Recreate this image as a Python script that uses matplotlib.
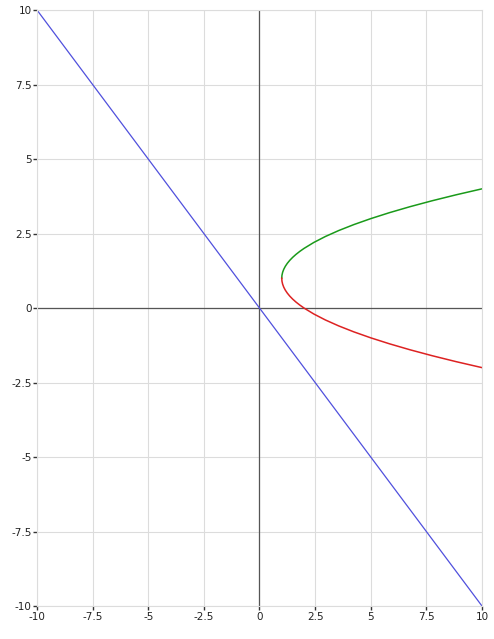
import numpy as np
import matplotlib
matplotlib.use("Agg")
import matplotlib.pyplot as plt

plt.rcParams['axes.unicode_minus'] = False
plt.rcParams['font.family'] = ['DejaVu Sans']

# straight line through origin
line_x = [-10, 10]
line_y = [10, -10]

# upper branch (green)
green_y = [1.0, 1.1, 1.2, 1.3, 1.4, 1.5, 1.6, 1.7, 1.8, 1.9, 2.0, 2.2, 2.4, 2.6, 2.8,
           3.0, 3.2, 3.4, 3.6, 3.8, 4.0]
green_x = [1.0, 1.01, 1.04, 1.09, 1.16, 1.25, 1.36, 1.49, 1.64, 1.81, 2.0, 2.44, 2.96, 3.56, 4.24,
           5.0, 5.84, 6.76, 7.76, 8.84, 10.0]

# lower branch (red)
red_y = [1.0, 0.9, 0.8, 0.7, 0.6, 0.5, 0.4, 0.3, 0.2, 0.1, 0.0, -0.2, -0.4, -0.6, -0.8,
         -1.0, -1.2, -1.4, -1.6, -1.8, -2.0]
red_x = [1.0, 1.01, 1.04, 1.09, 1.16, 1.25, 1.36, 1.49, 1.64, 1.81, 2.0, 2.44, 2.96, 3.56, 4.24,
         5.0, 5.84, 6.76, 7.76, 8.84, 10.0]

ticks = [-10, -7.5, -5, -2.5, 0, 2.5, 5, 7.5, 10]
tick_labels = ["-10", "-7.5", "-5", "-2.5", "0", "2.5", "5", "7.5", "10"]

fig = plt.figure(figsize=(4.94, 6.39), dpi=100)
ax = fig.add_axes([0.0749, 0.0516, 0.9008, 0.9327])

ax.set_xlim(-10, 10)
ax.set_ylim(-10, 10)
ax.set_xticks(ticks)
ax.set_yticks(ticks)
ax.set_xticklabels(tick_labels)
ax.set_yticklabels(tick_labels)
ax.grid(True, color="#dcdcdc", linewidth=0.8)
ax.set_axisbelow(True)
for s in ax.spines.values():
    s.set_color("#dcdcdc")
    s.set_linewidth(0.8)
ax.tick_params(length=3, width=1, color="#333333", labelcolor="#222222", labelsize=7.5, pad=1)

ax.axhline(0, color="#555555", linewidth=0.9)
ax.axvline(0, color="#555555", linewidth=0.9)

ax.plot(line_x, line_y, color="#5050dd", linewidth=0.9)
ax.plot(green_x, green_y, color="#1a9a1a", linewidth=1.1)
ax.plot(red_x, red_y, color="#dd2222", linewidth=1.1)

fig.savefig("out.png", dpi=100)
